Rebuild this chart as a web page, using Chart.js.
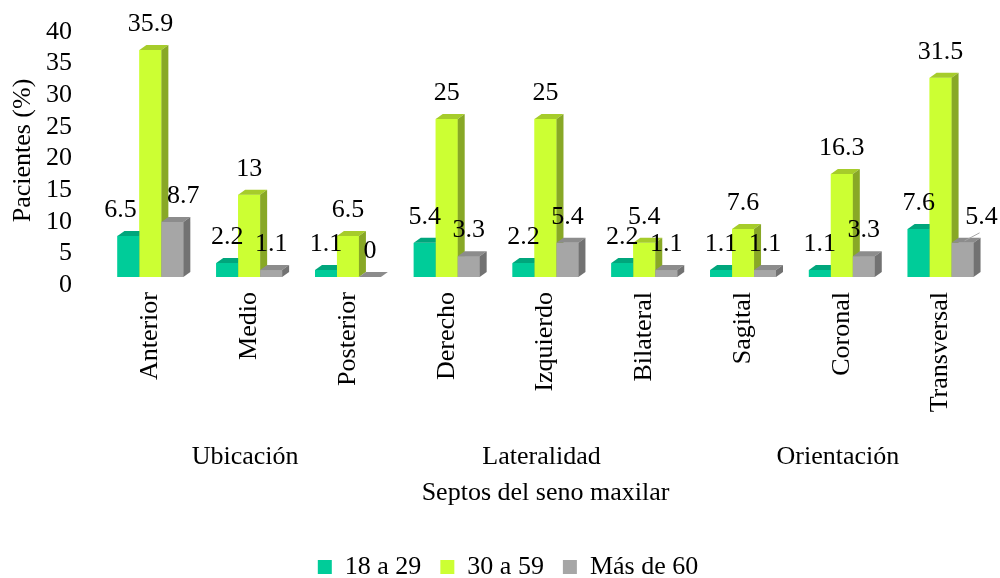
<!DOCTYPE html>
<html>
<head>
<meta charset="utf-8">
<script src="https://cdn.jsdelivr.net/npm/chart.js@4.4.1/dist/chart.umd.min.js"></script>
<style>
    html, body { margin: 0; padding: 0; background: #fff; }
</style>
</head>
<body>
<canvas id="septosChart" width="1000" height="578"></canvas>
<script>
const categories = ['Anterior', 'Medio', 'Posterior', 'Derecho', 'Izquierdo', 'Bilateral', 'Sagital', 'Coronal', 'Transversal'];
const groupNames = ['Ubicación', 'Lateralidad', 'Orientación'];
const groupCenters = [1, 4, 7];
const seriesNames = ['18 a 29', '30 a 59', 'Más de 60'];
const age18to29 = [6.5, 2.2, 1.1, 5.4, 2.2, 2.2, 1.1, 1.1, 7.6];
const age30to59 = [35.9, 13, 6.5, 25, 25, 5.4, 7.6, 16.3, 31.5];
const age60plus = [8.7, 1.1, 0, 3.3, 5.4, 1.1, 1.1, 3.3, 5.4];
const yTicks = [0, 5, 10, 15, 20, 25, 30, 35, 40];

const FONT = '"Liberation Serif", "Times New Roman", serif';
const faces = [
    { front: '#00CC99', top: '#00A67C', side: '#008C69' },
    { front: '#CCFF33', top: '#A6CC2B', side: '#88A826' },
    { front: '#A6A6A6', top: '#8C8C8C', side: '#727272' }
];
const depth = { dx: 7, dy: 5 };
// a few labels were nudged sideways in the original
const labelNudge = { '0-0': -8, '2-0': 11, '2-8': 19 };

Chart.defaults.font.family = FONT;
Chart.defaults.color = '#000';

// draws the front, top and side of every bar, category by category, then the values
const bar3d = {
    id: 'bar3d',
    afterDatasetsDraw(chart) {
        const ctx = chart.ctx;
        const metas = chart.data.datasets.map((d, i) => chart.getDatasetMeta(i));
        const { dx, dy } = depth;
        ctx.save();
        for (let j = 0; j < categories.length; j++) {
            metas.forEach((meta, d) => {
                const el = meta.data[j];
                const { x, y, base, width } = el.getProps(['x', 'y', 'base', 'width'], true);
                const l = x - width / 2, r = x + width / 2;
                const c = faces[d];
                ctx.fillStyle = c.front;
                ctx.fillRect(l, y, width, base - y);
                ctx.fillStyle = c.top;
                ctx.beginPath();
                ctx.moveTo(l, y); ctx.lineTo(l + dx, y - dy); ctx.lineTo(r + dx, y - dy); ctx.lineTo(r, y);
                ctx.closePath(); ctx.fill();
                ctx.fillStyle = c.side;
                ctx.beginPath();
                ctx.moveTo(r, y); ctx.lineTo(r + dx, y - dy); ctx.lineTo(r + dx, base - dy); ctx.lineTo(r, base);
                ctx.closePath(); ctx.fill();
            });
        }

        ctx.font = '26px ' + FONT;
        ctx.fillStyle = '#000';
        ctx.textAlign = 'center';
        ctx.textBaseline = 'middle';
        metas.forEach((meta, d) => {
            meta.data.forEach((el, j) => {
                const { x, y } = el.getProps(['x', 'y'], true);
                const nudge = labelNudge[d + '-' + j] || 0;
                const lx = x + nudge, ly = y - 26;
                ctx.fillText(String(chart.data.datasets[d].data[j]), lx, ly);
                if (nudge > 15) {
                    ctx.strokeStyle = '#A6A6A6';
                    ctx.lineWidth = 1;
                    ctx.beginPath();
                    ctx.moveTo(lx - 2, ly + 16);
                    ctx.lineTo(x + 2, y - 2);
                    ctx.stroke();
                }
            });
        });

        // group names under the category labels
        const xScale = chart.scales.x;
        groupNames.forEach((name, g) => {
            ctx.fillText(name, xScale.getPixelForValue(groupCenters[g]) - 4, xScale.top + 180);
        });
        ctx.restore();
    }
};

new Chart(document.getElementById('septosChart'), {
    type: 'bar',
    data: {
        labels: categories,
        datasets: [
            { label: seriesNames[0], data: age18to29, backgroundColor: faces[0].front, borderWidth: 0 },
            { label: seriesNames[1], data: age30to59, backgroundColor: faces[1].front, borderWidth: 0 },
            { label: seriesNames[2], data: age60plus, backgroundColor: faces[2].front, borderWidth: 0 }
        ]
    },
    options: {
        responsive: false,
        animation: false,
        categoryPercentage: 0.667,
        barPercentage: 1,
        layout: { padding: { top: 24, left: 26, right: 10, bottom: -12 } },
        plugins: {
            tooltip: { enabled: false },
            legend: {
                position: 'bottom',
                labels: { font: { size: 26 }, boxWidth: 14, boxHeight: 14, padding: 19, color: '#000' }
            }
        },
        scales: {
            x: {
                grid: { display: false, drawTicks: false },
                border: { display: false },
                ticks: { font: { size: 26 }, minRotation: 90, maxRotation: 90, autoSkip: false, padding: 15 },
                title: {
                    display: true,
                    text: 'Septos del seno maxilar',
                    font: { size: 26 },
                    padding: { top: 0, bottom: 26 }
                },
                afterFit(scale) { scale.height = 258; }
            },
            y: {
                min: 0,
                max: 40,
                afterBuildTicks(scale) { scale.ticks = yTicks.map(v => ({ value: v })); },
                // tick marks are not drawn, their length only spaces the labels off the plot
                grid: { display: false, drawTicks: true, tickLength: 22 },
                border: { display: false },
                ticks: { font: { size: 26 }, padding: 7, labelOffset: 8, autoSkip: false },
                title: {
                    display: true,
                    text: 'Pacientes (%)',
                    font: { size: 26 },
                    padding: { top: -18.6, bottom: 0 }
                },
                afterFit(scale) { scale.width = 75; }
            }
        }
    },
    plugins: [bar3d]
});
</script>
</body>
</html>
